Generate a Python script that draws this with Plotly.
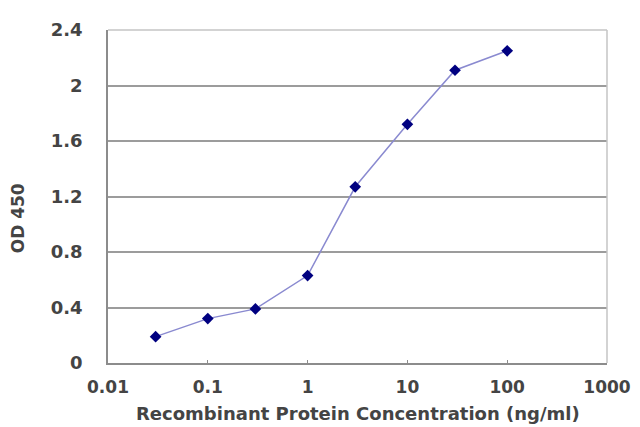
import plotly.graph_objects as go

concentration = [0.03, 0.1, 0.3, 1, 3, 10, 30, 100]
od450 = [0.19, 0.32, 0.39, 0.63, 1.27, 1.72, 2.11, 2.25]

x_tickvals = [0.01, 0.1, 1, 10, 100, 1000]
x_ticktext = ["0.01", "0.1", "1", "10", "100", "1000"]
y_tickvals = [0, 0.4, 0.8, 1.2, 1.6, 2, 2.4]
y_ticktext = ["0", "0.4", "0.8", "1.2", "1.6", "2", "2.4"]

font_family = "DejaVu Sans"
text_color = "#444444"
fs = 18

fig = go.Figure()
fig.add_trace(go.Scatter(
    x=concentration, y=od450, mode="lines+markers",
    line=dict(color="#8a8ad0", width=1.5),
    marker=dict(symbol="diamond", size=9, color="#000080"),
    showlegend=False,
))

fig.update_layout(
    width=640, height=427,
    margin=dict(l=100, r=41, t=22, b=72),
    paper_bgcolor="white", plot_bgcolor="white",
    font=dict(family=font_family, size=fs, color=text_color, weight="bold"),
    xaxis=dict(
        type="log", range=[-2, 3],
        tickvals=x_tickvals, ticktext=x_ticktext,
        showgrid=False, zeroline=False,
        showline=True, linecolor="#8c8c8c", linewidth=1.5,
        ticks="inside", ticklen=3, tickcolor="#8c8c8c",
        ticklabelstandoff=8,
        tickfont=dict(size=17, color=text_color, weight="bold"),
    ),
    yaxis=dict(
        range=[0, 2.4], tickvals=y_tickvals, ticktext=y_ticktext,
        showgrid=True, gridcolor="#9c9c9c", gridwidth=1.5,
        zeroline=False,
        showline=True, linecolor="#8c8c8c", linewidth=1.5,
        ticks="", ticklabelstandoff=20,
        tickfont=dict(size=fs, color=text_color, weight="bold"),
    ),
    annotations=[
        dict(text="OD 450", xref="paper", yref="paper", x=-0.18, y=0.435,
             xanchor="center", yanchor="middle", textangle=-90, showarrow=False,
             font=dict(size=17, color=text_color, weight="bold")),
        dict(text="Recombinant Protein Concentration (ng/ml)",
             xref="paper", yref="paper", x=0.5, y=-0.152,
             xanchor="center", yanchor="middle", showarrow=False,
             font=dict(size=18, color=text_color, weight="bold")),
    ],
    shapes=[
        dict(type="line", xref="paper", yref="paper", x0=0, x1=1, y0=1, y1=1,
             line=dict(color="#c4c4c4", width=1.5)),
        dict(type="line", xref="paper", yref="paper", x0=1, x1=1, y0=0, y1=1,
             line=dict(color="#c4c4c4", width=1.5)),
    ],
)

fig.write_html("out.html")
